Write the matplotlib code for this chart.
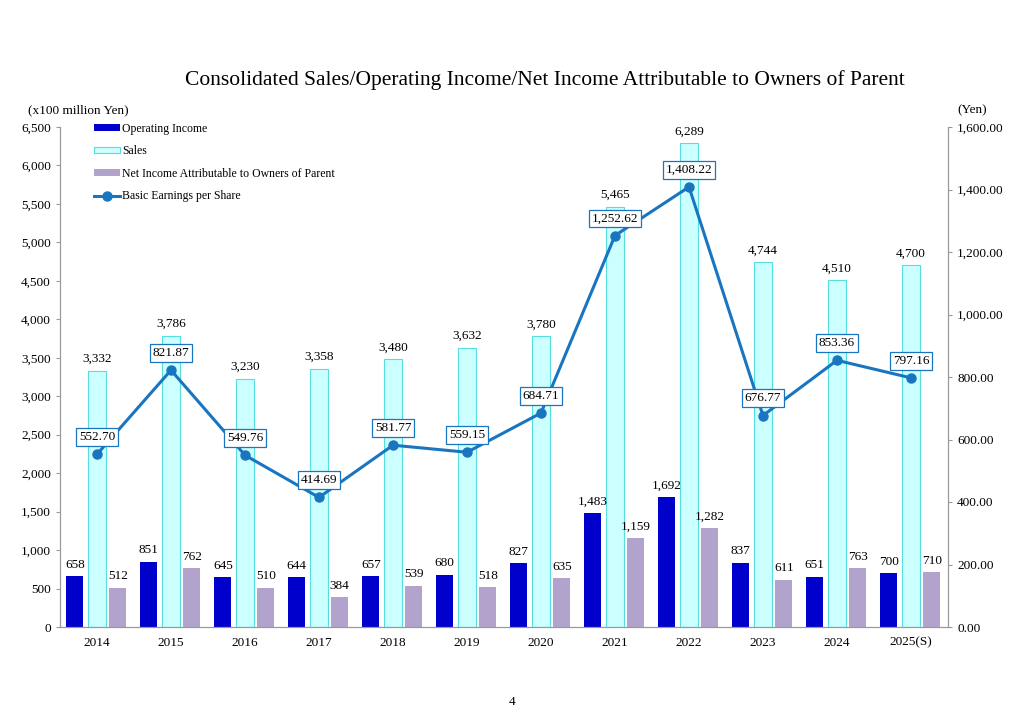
import matplotlib.pyplot as plt
import numpy as np

plt.rcParams['font.family'] = ['Liberation Serif', 'DejaVu Serif']

anos = ['2014', '2015', '2016', '2017', '2018', '2019', '2020', '2021', '2022', '2023', '2024', '2025(S)']
vendas = [3332, 3786, 3230, 3358, 3480, 3632, 3780, 5465, 6289, 4744, 4510, 4700]
lucro_operacional = [658, 851, 645, 644, 657, 680, 827, 1483, 1692, 837, 651, 700]
lucro_liquido = [512, 762, 510, 384, 539, 518, 635, 1159, 1282, 611, 763, 710]
eps = [552.70, 821.87, 549.76, 414.69, 581.77, 559.15, 684.71, 1252.62, 1408.22, 676.77, 853.36, 797.16]

cor_op = '#0000cc'
cor_vendas = '#ccffff'
cor_borda_vendas = '#55dde0'
cor_liq = '#b1a3cc'
cor_eps = '#1a75c0'
cor_eixo = '#999999'
fs = 9.5

fig = plt.figure(figsize=(10.24, 7.24), dpi=100)
ax = fig.add_axes([60 / 1024, 1 - 627 / 724, 888 / 1024, 500 / 724])
x = np.arange(len(anos))
w = 0.23

b_op = ax.bar(x - 0.3, lucro_operacional, w, color=cor_op, label='Operating Income')
b_v = ax.bar(x, vendas, w, color=cor_vendas, edgecolor=cor_borda_vendas, linewidth=0.8, label='Sales')
b_l = ax.bar(x + 0.28, lucro_liquido, w, color=cor_liq, label='Net Income Attributable to Owners of Parent')

for barras in (b_op, b_v, b_l):
    for b in barras:
        ax.annotate(f'{int(b.get_height()):,}', (b.get_x() + b.get_width() / 2, b.get_height()),
                    xytext=(0, 4), textcoords='offset points', ha='center', va='bottom', fontsize=fs)

ax.set_xlim(-0.5, len(anos) - 0.5)
ax.set_ylim(0, 6500)
ax.set_yticks(np.arange(0, 6501, 500))
ax.set_yticklabels([f'{v:,}' for v in range(0, 6501, 500)])
ax.set_xticks(x)
ax.set_xticklabels(anos)

ax2 = ax.twinx()
linha, = ax2.plot(x, eps, color=cor_eps, linewidth=2.2, marker='o', markersize=6.5, label='Basic Earnings per Share')
ax2.set_ylim(0, 1600)
ax2.set_yticks(np.arange(0, 1601, 200))
ax2.set_yticklabels([f'{v:,.2f}' for v in range(0, 1601, 200)])
for xi, v in zip(x, eps):
    ax2.annotate(f'{v:,.2f}', (xi, v), xytext=(0, 8), textcoords='offset points', ha='center', va='bottom',
                 fontsize=fs, bbox=dict(boxstyle='square,pad=0.22', fc='white', ec=cor_eps, lw=0.9))

for a in (ax, ax2):
    a.spines['top'].set_visible(False)
    for s in ('left', 'right', 'bottom'):
        a.spines[s].set_color(cor_eixo)
    a.tick_params(colors=cor_eixo, labelcolor='black', labelsize=fs, length=3)
ax.tick_params(axis='x', length=0, pad=7)

ax.legend(handles=[b_op, b_v, b_l, linha], loc='upper left', bbox_to_anchor=(0.026, 1.03), frameon=False,
          fontsize=8.5, handlelength=2.2, handleheight=0.45, labelspacing=0.9, handletextpad=0.2)

fig.text(545 / 1024, 1 - 80 / 724, 'Consolidated Sales/Operating Income/Net Income Attributable to Owners of Parent',
         ha='center', va='center', fontsize=15.5)
fig.text(28 / 1024, 1 - 110 / 724, '(x100 million Yen)', ha='left', va='center', fontsize=fs)
fig.text(957 / 1024, 1 - 110 / 724, '(Yen)', ha='left', va='center', fontsize=fs)
fig.text(512 / 1024, 1 - 702 / 724, '4', ha='center', va='center', fontsize=fs)

plt.savefig('out.png', dpi=100)
